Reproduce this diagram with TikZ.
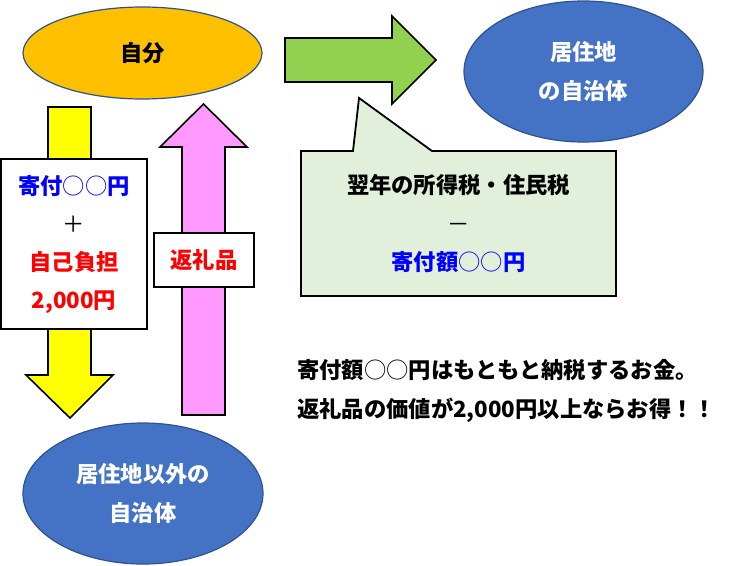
\documentclass[tikz,border=0pt]{standalone}
\usepackage{fontspec}
\setmainfont{Noto Sans CJK JP}
\usetikzlibrary{shapes.geometric}
\definecolor{orangefill}{HTML}{FFC000}
\definecolor{bluefill}{HTML}{4472C4}
\definecolor{ellborder}{HTML}{2F528F}
\definecolor{greenfill}{HTML}{92D050}
\definecolor{yellowfill}{HTML}{FFFF00}
\definecolor{pinkfill}{HTML}{FF99FF}
\definecolor{calloutfill}{HTML}{E2EFDA}
\definecolor{txtblue}{HTML}{0000FF}
\definecolor{txtred}{HTML}{FF0000}
\newcommand{\maru}{{\mdseries ○○}}
\begin{document}
\begin{tikzpicture}[x=1pt,y=-1pt,
  ell/.style={ellipse, draw=ellborder, line width=1.2pt, inner sep=0pt, align=center,
    font=\bfseries\fontsize{22.3}{38.5}\selectfont},
  blockarrow/.style={draw=black, line width=1.6pt, line join=miter},
  box/.style={rectangle, draw=black, line width=1.8pt, fill=white, inner sep=0pt, align=center,
    font=\bfseries\fontsize{22.3}{38}\selectfont},
  plain/.style={inner sep=0pt, align=center, font=\bfseries\fontsize{22.3}{38.5}\selectfont}
]
\useasboundingbox (0,0) rectangle (733,565);

% ellipses
\node[ell, fill=orangefill, minimum width=239pt, minimum height=92pt] (jibun) at (142.5,53) {自分};
\node[ell, fill=bluefill, text=white, minimum width=239pt, minimum height=141pt] (kyoju) at (583.5,71.5) {居住地\\の自治体};
\node[ell, fill=bluefill, text=white, minimum width=240pt, minimum height=141pt] (igai) at (143,493.5) {居住地以外の\\自治体};

% green arrow
\draw[blockarrow, fill=greenfill] (285,38) -- (392,38) -- (392,16) -- (436,60) -- (392,104) -- (392,82) -- (285,82) -- cycle;

% yellow arrow (down)
\draw[blockarrow, fill=yellowfill] (48,107) -- (91,107) -- (91,375) -- (113,375) -- (70,418) -- (26,375) -- (48,375) -- cycle;

% pink arrow (up)
\draw[blockarrow, fill=pinkfill] (182,415) -- (182,147) -- (160,147) -- (203.5,104) -- (247,147) -- (225,147) -- (225,415) -- cycle;

% white box on yellow arrow
\node[box, minimum width=146pt, minimum height=170pt] (kifu) at (74,244)
  {\textcolor{txtblue}{寄付\maru 円}\\{\mdseries ＋}\\\textcolor{txtred}{自己負担}\\\textcolor{txtred}{2,000円}};

% box on pink arrow
\node[box, minimum width=100pt, minimum height=54pt, text=txtred] (henrei) at (204,260) {返礼品};

% callout
\draw[line width=1.8pt, fill=calloutfill, line join=miter]
  (301,151) -- (353,151) -- (359,98) -- (432,151) -- (616,151) -- (616,296) -- (301,296) -- cycle;
\node[plain] (zei) at (458.5,223.5) {翌年の所得税・住民税\\{\mdseries －}\\\textcolor{txtblue}{寄付額\maru 円}};

% bottom text
\node[plain, align=left, anchor=west] (memo) at (297,391)
  {寄付額\maru 円はもともと納税するお金。\\返礼品の価値が2,000円以上ならお得！！};
\end{tikzpicture}
\end{document}
